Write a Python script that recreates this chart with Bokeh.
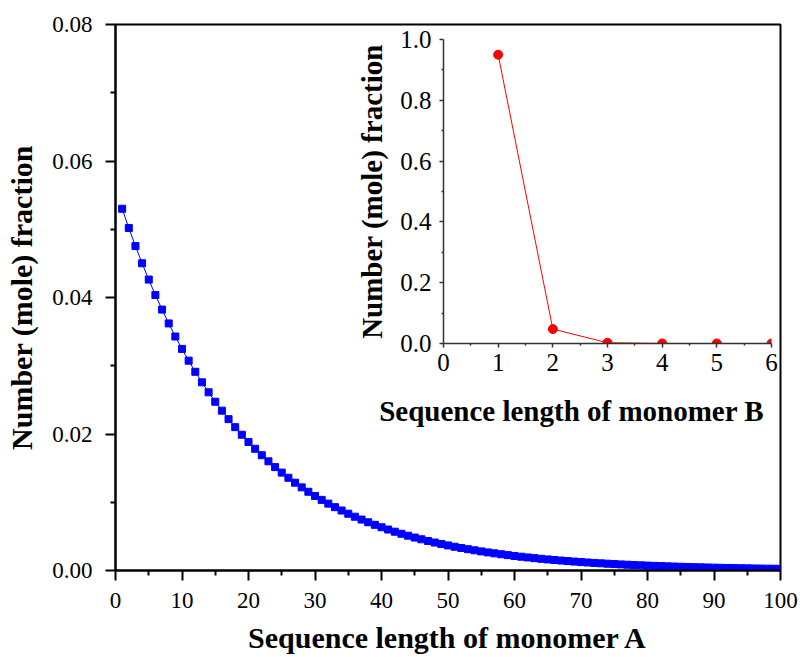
from bokeh.plotting import figure
from bokeh.models import Range1d, FixedTicker, NumeralTickFormatter, Label, Column
from bokeh.embed import file_html
from bokeh.resources import INLINE

# ---- data: main chart (monomer A) ----
length_a = list(range(1, 101))
fraction_a = [
    0.053000, 0.050191, 0.047531, 0.045012, 0.042626, 0.040367, 0.038228, 0.036202, 0.034283, 0.032466,
    0.030745, 0.029116, 0.027573, 0.026112, 0.024728, 0.023417, 0.022176, 0.021001, 0.019888, 0.018834,
    0.017836, 0.016891, 0.015996, 0.015148, 0.014345, 0.013585, 0.012865, 0.012183, 0.011537, 0.010926,
    0.010347, 0.009799, 0.009280, 0.008788, 0.008322, 0.007881, 0.007463, 0.007067, 0.006692, 0.006337,
    0.006001, 0.005683, 0.005382, 0.005097, 0.004827, 0.004571, 0.004329, 0.004100, 0.003883, 0.003677,
    0.003482, 0.003297, 0.003122, 0.002957, 0.002800, 0.002652, 0.002511, 0.002378, 0.002252, 0.002133,
    0.002020, 0.001913, 0.001812, 0.001716, 0.001625, 0.001539, 0.001457, 0.001380, 0.001307, 0.001238,
    0.001172, 0.001110, 0.001051, 0.000995, 0.000942, 0.000892, 0.000845, 0.000800, 0.000758, 0.000718,
    0.000680, 0.000644, 0.000610, 0.000578, 0.000547, 0.000518, 0.000491, 0.000465, 0.000440, 0.000417,
    0.000395, 0.000374, 0.000354, 0.000335, 0.000317, 0.000300, 0.000284, 0.000269, 0.000255, 0.000241,
]
x_ticks_a = [0, 10, 20, 30, 40, 50, 60, 70, 80, 90, 100]
x_minor_a = [5, 15, 25, 35, 45, 55, 65, 75, 85, 95]
y_ticks_a = [0.00, 0.02, 0.04, 0.06, 0.08]
y_minor_a = [0.01, 0.03, 0.05, 0.07]

# ---- data: inset (monomer B) ----
length_b = [1, 2, 3, 4, 5, 6]
fraction_b = [0.95, 0.0475, 0.0024, 0.00012, 0.000006, 0.0000003]
x_ticks_b = [0, 1, 2, 3, 4, 5, 6]
x_minor_b = [0.5, 1.5, 2.5, 3.5, 4.5, 5.5]
y_ticks_b = [0.0, 0.2, 0.4, 0.6, 0.8, 1.0]
y_minor_b = [0.1, 0.3, 0.5, 0.7, 0.9]

label_x_a = "Sequence length of monomer A"
label_x_b = "Sequence length of monomer B"
label_y = "Number (mole) fraction"

SERIF = "Liberation Serif"

# ---------------- main figure ----------------
p = figure(width=798, height=656, x_range=Range1d(0, 100), y_range=Range1d(0, 0.08),
           output_backend="svg", toolbar_location=None,
           min_border_left=115, min_border_right=18, min_border_top=24, min_border_bottom=86)
p.grid.visible = False
p.outline_line_color = "black"
p.outline_line_width = 2
p.background_fill_color = "white"

p.line(length_a, fraction_a, line_color="blue", line_width=1)
p.scatter(length_a, fraction_a, marker="square", size=7, fill_color="blue", line_color="blue")

for ax in (p.xaxis[0], p.yaxis[0]):
    ax.axis_line_width = 2
    ax.axis_line_color = "black"
    ax.major_tick_line_width = 2
    ax.minor_tick_line_width = 2
    ax.major_tick_out = 10
    ax.major_tick_in = 0
    ax.minor_tick_out = 5
    ax.minor_tick_in = 0
    ax.major_label_text_font = SERIF
    ax.major_label_text_font_size = "23px"
    ax.major_label_text_color = "black"
    ax.axis_label_text_font = SERIF
    ax.axis_label_text_font_size = "30px"
    ax.axis_label_text_font_style = "bold"
    ax.axis_label_text_color = "black"

p.xaxis.ticker = FixedTicker(ticks=x_ticks_a, minor_ticks=x_minor_a)
p.xaxis.formatter = NumeralTickFormatter(format="0")
p.xaxis.axis_label = label_x_a
p.xaxis.major_label_standoff = 12
p.xaxis.axis_label_standoff = 10

p.yaxis.ticker = FixedTicker(ticks=y_ticks_a, minor_ticks=y_minor_a)
p.yaxis.formatter = NumeralTickFormatter(format="0.00")
p.yaxis.axis_label = label_y
p.yaxis.major_label_standoff = 13
p.yaxis.axis_label_standoff = 11

# inset x-axis title (placed with the main figure's scales)
p.add_layout(Label(x=68.6, y=0.0233, text=label_x_b, text_align="center", text_baseline="middle",
                   text_font=SERIF, text_font_size="29px", text_font_style="bold", text_color="black"))

# ---------------- inset figure ----------------
q = figure(width=461, height=352, x_range=Range1d(0, 6), y_range=Range1d(0, 1.0),
           output_backend="svg", toolbar_location=None,
           min_border_left=115, min_border_right=18, min_border_top=12, min_border_bottom=36,
           background_fill_alpha=0, border_fill_alpha=0)
q.grid.visible = False
q.outline_line_color = None

q.line(length_b, fraction_b, line_color="red", line_width=1)
q.scatter(length_b, fraction_b, marker="circle", size=9, fill_color="red", line_color="red")

for ax in (q.xaxis[0], q.yaxis[0]):
    ax.axis_line_width = 1.5
    ax.axis_line_color = "#333333"
    ax.major_tick_line_color = "#333333"
    ax.minor_tick_line_color = "#333333"
    ax.major_tick_line_width = 1.5
    ax.minor_tick_line_width = 1.5
    ax.major_tick_out = 4
    ax.major_tick_in = 0
    ax.minor_tick_out = 2
    ax.minor_tick_in = 0
    ax.major_label_text_font = SERIF
    ax.major_label_text_font_size = "25px"
    ax.major_label_text_color = "black"
    ax.axis_label_text_font = SERIF
    ax.axis_label_text_font_size = "29px"
    ax.axis_label_text_font_style = "bold"
    ax.axis_label_text_color = "black"

q.xaxis.ticker = FixedTicker(ticks=x_ticks_b, minor_ticks=x_minor_b)
q.xaxis.formatter = NumeralTickFormatter(format="0")
q.xaxis.major_label_standoff = 6

q.yaxis.ticker = FixedTicker(ticks=y_ticks_b, minor_ticks=y_minor_b)
q.yaxis.formatter = NumeralTickFormatter(format="0.0")
q.yaxis.axis_label = label_y
q.yaxis.major_label_standoff = 8
q.yaxis.axis_label_standoff = 9

q.styles = {"position": "absolute", "left": "328px", "top": "27px"}

layout = Column(p, q, styles={"position": "relative"})

open("out.html", "w").write(file_html(layout, INLINE))
